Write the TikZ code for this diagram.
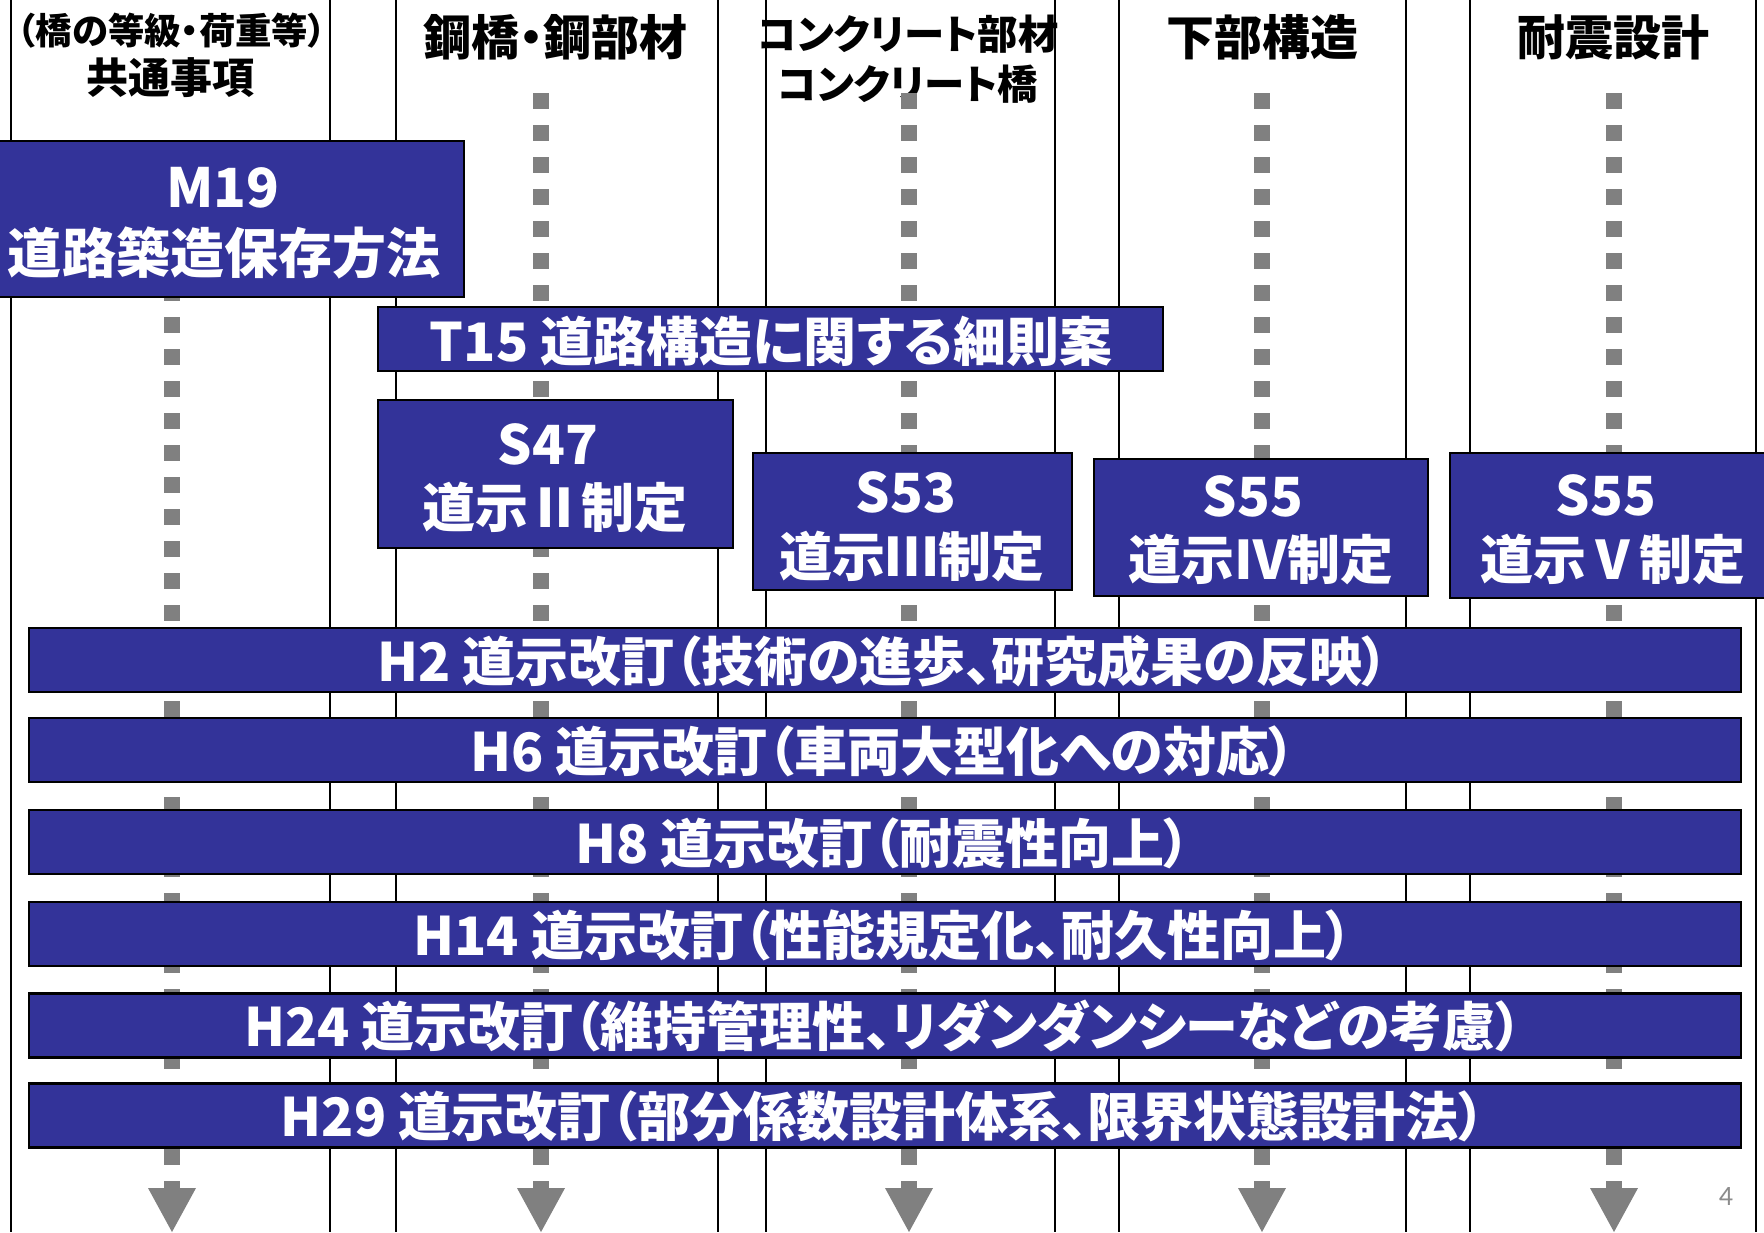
\documentclass[tikz,border=0pt]{standalone}
\usepackage{fontspec}
\usepackage{graphicx}
\setmainfont{Noto Sans CJK JP}[RawFeature=+palt]
\newfontfamily\jpfw{Noto Sans CJK JP}
\newfontfamily\pgfont{Carlito}
\definecolor{boxblue}{RGB}{51,51,153}
\definecolor{dashgray}{RGB}{128,128,128}
\definecolor{pagegray}{RGB}{140,140,140}
\begin{document}
\begin{tikzpicture}[x=0.5pt,y=-0.5pt,
  vline/.style={line width=1pt,black},
  dashline/.style={line width=8pt,dashgray,dash pattern=on 8pt off 8pt},
  bluebox/.style={draw=black,line width=1.25pt,fill=boxblue,inner sep=0pt,outer sep=0pt},
  boxtext/.style={text=white,font=\bfseries\fontsize{27pt}{32pt}\selectfont,inner sep=0pt,anchor=center},
  numtext/.style={text=white,font=\jpfw\bfseries\fontsize{26.5pt}{32pt}\selectfont,inner sep=0pt,anchor=center},
  rowtext/.style={text=white,font=\bfseries\fontsize{26.5pt}{32pt}\selectfont,inner sep=0pt,anchor=center},
  headbig/.style={font=\bfseries\fontsize{24pt}{28pt}\selectfont,inner sep=0pt,anchor=center},
  headmid/.style={font=\bfseries\fontsize{21pt}{25pt}\selectfont,inner sep=0pt,anchor=center},
  headkana/.style={font=\bfseries\fontsize{20.2pt}{25pt}\selectfont,inner sep=0pt,anchor=center},
  headsmall/.style={font=\bfseries\fontsize{18.2pt}{23pt}\selectfont,inner sep=0pt,anchor=center},
]
\useasboundingbox (0,0) rectangle (1764,1232);
\clip (0,0) rectangle (1764,1232);
\fill[white] (0,0) rectangle (1764,1232);

% column separator lines
\foreach \x in {11,330,396,718,766,1055,1119,1406,1470,1756}
  \draw[vline] (\x,0) -- (\x,1232);

% headers
\node[headsmall] (h1a) at (172,31) {（橋の等級・荷重等）};
\node[headmid]   (h1b) at (170,78) {共通事項};
\node[headbig]   (h2)  at (555,37) {鋼橋・鋼部材};
\node[headkana]  (h3a) at (908,34) {コンクリート部材};
\node[headkana]  (h3b) at (908,84) {コンクリート橋};
\node[headbig]   (h4)  at (1262,37) {下部構造};
\node[headbig]   (h5)  at (1613,37) {耐震設計};

% dashed timelines with arrow heads
\foreach \n/\x/\t in {1/172/157,2/541/93,3/909/93,4/1262/93,5/1614/93}{
  \coordinate (c\n top) at (\x,\t);
  \coordinate (c\n bot) at (\x,1188);
  \coordinate (c\n tip) at (\x,1232);
  \draw[dashline] (c\n top) -- (c\n bot);
  \fill[dashgray] ([xshift=-12pt]c\n bot) -- ([xshift=12pt]c\n bot) -- (c\n tip) -- cycle;
}

% boxes
\node[bluebox,minimum width=242pt,minimum height=78pt] (m19) at (222,219) {};
\node[bluebox,minimum width=392.5pt,minimum height=32pt] (t15) at (770.5,339) {};
\node[bluebox,minimum width=177.5pt,minimum height=74pt] (s47) at (555.5,474) {};
\node[bluebox,minimum width=159.5pt,minimum height=68.5pt] (s53) at (912.5,521.5) {};
\node[bluebox,minimum width=167pt,minimum height=68.5pt] (s55a) at (1261,527.5) {};
\node[bluebox,minimum width=170pt,minimum height=72.5pt] (s55b) at (1620,525.5) {};
\foreach \n/\y in {h2/660,h6/750,h8/842,h14/934,h24/1025.5,h29/1115.5}
  \node[bluebox,minimum width=856pt,minimum height=32pt] (\n box) at (885,\y) {};

% box texts
\node[boxtext] (m19a) at (223,188) {M19};
\node[boxtext] (m19b) at (224,253) {道路築造保存方法};
\node[rowtext] (t15a) at (771,341) {T15 道路構造に関する細則案};
\node[boxtext] (s47a) at (548,444) {S47};
\node[numtext] (s47b) at (555,508) {道示Ⅱ制定};
\node[boxtext] (s53a) at (906,492) {S53};
\node[numtext] (s53b) at (912,557) {道示Ⅲ制定};
\node[boxtext] (s55aa) at (1253,496) {S55};
\node[numtext] (s55ab) at (1261,560) {道示Ⅳ制定};
\node[boxtext] (s55ba) at (1606,495) {S55};
\node[numtext] (s55bb) at (1613,560) {道示Ⅴ制定};

\node[rowtext] (h2t)  at (883,661)  {H2 道示改訂（技術の進歩、研究成果の反映）};
\node[rowtext] (h6t)  at (883,751)  {H6 道示改訂（車両大型化への対応）};
\node[rowtext] (h8t)  at (883,843)  {H8 道示改訂（耐震性向上）};
\node[rowtext] (h14t) at (883,935)  {H14 道示改訂（性能規定化、耐久性向上）};
\node[rowtext] (h24t) at (883,1026) {H24 道示改訂（維持管理性、リダンダンシーなどの考慮）};
\node[rowtext] (h29t) at (883,1116) {H29 道示改訂（部分係数設計体系、限界状態設計法）};

% page number
\node[text=pagegray,font=\pgfont\fontsize{14pt}{16pt}\selectfont,inner sep=0pt] (pg) at (1726,1196) {4};
\end{tikzpicture}
\end{document}
